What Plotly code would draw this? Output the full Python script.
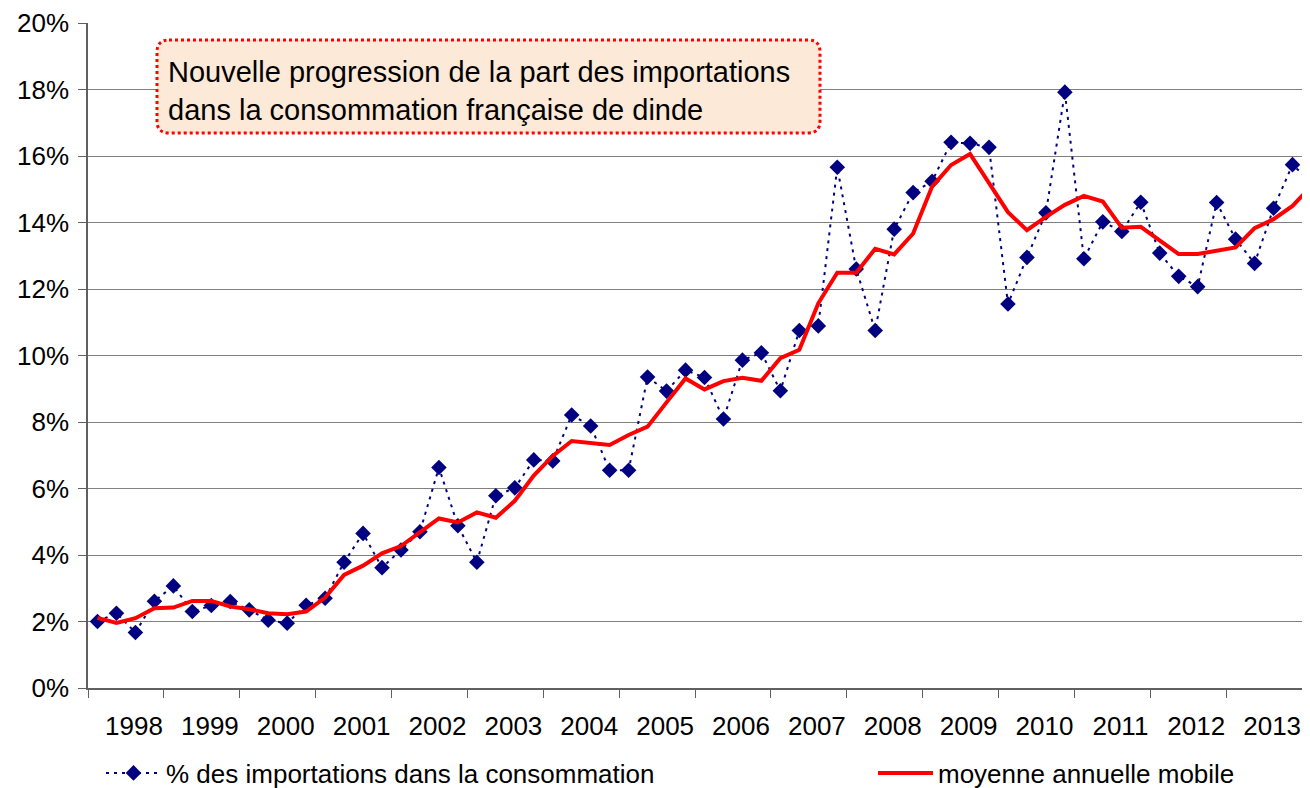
import plotly.graph_objects as go

# ---- data (quarterly points) ----
year_labels = ["1998", "1999", "2000", "2001", "2002", "2003", "2004", "2005",
               "2006", "2007", "2008", "2009", "2010", "2011", "2012", "2013"]

import_share = [2.00, 2.25, 1.67, 2.61, 3.07, 2.30, 2.48, 2.60, 2.35, 2.04, 1.95, 2.49,
                2.70, 3.78, 4.65, 3.62, 4.15, 4.70, 6.63, 4.88, 3.78, 5.78, 6.02, 6.86,
                6.83, 8.21, 7.88, 6.55, 6.55, 9.35, 8.93, 9.56, 9.34, 8.09, 9.86, 10.08,
                8.94, 10.75, 10.89, 15.66, 12.60, 10.75, 13.80, 14.90, 15.24, 16.41, 16.38, 16.26,
                11.55, 12.95, 14.29, 17.92, 12.91, 14.02, 13.73, 14.61, 13.08, 12.38, 12.07, 14.60,
                13.50, 12.77, 14.43, 15.74, 15.20]

moving_avg = [2.11, 1.96, 2.10, 2.40, 2.42, 2.62, 2.62, 2.45, 2.37, 2.25, 2.22, 2.30,
              2.72, 3.40, 3.68, 4.05, 4.27, 4.70, 5.10, 4.98, 5.28, 5.12, 5.63, 6.39,
              6.98, 7.43, 7.38, 7.31, 7.61, 7.86, 8.59, 9.31, 8.98, 9.23, 9.33, 9.24,
              9.92, 10.17, 11.57, 12.49, 12.49, 13.21, 13.04, 13.67, 15.08, 15.73, 16.06, 15.18,
              14.31, 13.77, 14.17, 14.53, 14.80, 14.63, 13.84, 13.87, 13.47, 13.05, 13.05, 13.15,
              13.25, 13.83, 14.10, 14.50, 15.10]

quarter_index = list(range(len(import_share)))

series_names = ["% des importations dans la consommation", "moyenne annuelle mobile"]
box_lines = ["Nouvelle progression de la part des importations",
             "dans la consommation française de dinde"]

# ---- layout geometry (page has an 8px body margin; visible area 8..1302 x 8..788) ----
OFF = 8
W, H = 1310 - 2 * OFF, 788 - OFF
PLOT_L, PLOT_R, PLOT_T, PLOT_B = 88, 1302, 23, 688   # in page pixels
L, R, T, B = PLOT_L - OFF, (W + OFF) - PLOT_R, PLOT_T - OFF, (H + OFF) - PLOT_B
PW, PH = PLOT_R - PLOT_L, PLOT_B - PLOT_T
FONT = "Liberation Sans, Arial, sans-serif"


def px(x):
    return (x - PLOT_L) / PW


def py(y):
    return (PLOT_B - y) / PH


fig = go.Figure()
fig.add_trace(go.Scatter(
    x=quarter_index, y=import_share, name=series_names[0], mode="lines+markers",
    line=dict(color="#000080", width=2, dash="3px,5px"),
    marker=dict(symbol="diamond", size=12, color="#000080"),
    legend="legend",
))
fig.add_trace(go.Scatter(
    x=quarter_index, y=moving_avg, name=series_names[1], mode="lines",
    line=dict(color="#FF0000", width=4),
    legend="legend2",
))

boundary_ticks = [-0.5 + 4 * k for k in range(len(year_labels) + 1)]
fig.update_xaxes(
    range=[-0.5, 63.5], tickmode="array", tickvals=boundary_ticks,
    ticktext=year_labels + [""], ticklabelshift=int(round(2.5 * PW / 64)) - 1,
    ticklabeloverflow="allow",
    ticks="outside", ticklen=8, tickcolor="#606060", tickwidth=1,
    showline=True, linecolor="#606060", linewidth=1.5, showgrid=False, zeroline=False,
    tickfont=dict(family=FONT, size=26, color="black"), ticklabelstandoff=6,
)
fig.update_yaxes(
    range=[0, 20], tickmode="linear", tick0=0, dtick=2, ticksuffix="%",
    ticks="outside", ticklen=8, tickcolor="#606060", tickwidth=1,
    showline=True, linecolor="#606060", linewidth=1.5,
    showgrid=True, gridcolor="#808080", gridwidth=1, zeroline=False,
    tickfont=dict(family=FONT, size=26, color="black"), ticklabelstandoff=4,
)

# rounded dotted text box
x0, x1, y0, y1, r = 157, 820, 40, 133, 12
path = (f"M {px(x0 + r)},{py(y0)} L {px(x1 - r)},{py(y0)} Q {px(x1)},{py(y0)} {px(x1)},{py(y0 + r)} "
        f"L {px(x1)},{py(y1 - r)} Q {px(x1)},{py(y1)} {px(x1 - r)},{py(y1)} "
        f"L {px(x0 + r)},{py(y1)} Q {px(x0)},{py(y1)} {px(x0)},{py(y1 - r)} "
        f"L {px(x0)},{py(y0 + r)} Q {px(x0)},{py(y0)} {px(x0 + r)},{py(y0)} Z")
fig.add_shape(type="path", path=path, xref="paper", yref="paper",
              fillcolor="#FDE9D8", line=dict(color="#FF0000", width=3, dash="dot"),
              layer="above")
for line_text, ypix in zip(box_lines, [72, 110]):
    fig.add_annotation(text=line_text, xref="paper", yref="paper", x=px(166), y=py(ypix),
                       xanchor="left", yanchor="middle", showarrow=False,
                       font=dict(family=FONT, size=29, color="black"))

legend_common = dict(orientation="h", yanchor="middle", xanchor="left", itemwidth=55,
                     font=dict(family=FONT, size=26, color="black"),
                     bgcolor="rgba(0,0,0,0)")
fig.update_layout(
    width=W, height=H, margin=dict(l=L, r=R, t=T, b=B, autoexpand=False),
    plot_bgcolor="white", paper_bgcolor="white",
    showlegend=True,
    legend=dict(x=px(101), y=py(773), **legend_common),
    legend2=dict(x=px(873), y=py(773), **legend_common),
)

fig.write_html("out.html")
